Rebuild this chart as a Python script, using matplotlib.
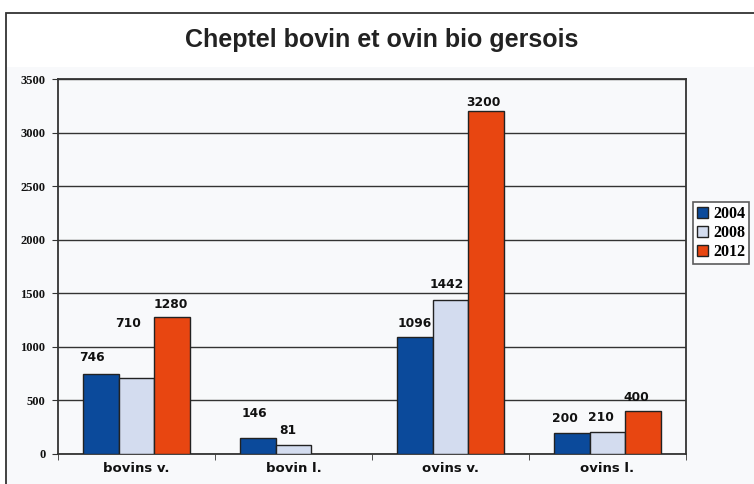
import numpy as np
import matplotlib
matplotlib.use("Agg")
import matplotlib.pyplot as plt
from matplotlib.patches import Rectangle

categories = ["bovins v.", "bovin l.", "ovins v.", "ovins l."]
years = ["2004", "2008", "2012"]
v2004 = [746, 146, 1096, 200]
v2008 = [710, 81, 1442, 210]
v2012 = [1280, None, 3200, 400]
series = [v2004, v2008, v2012]
colors = ["#0b4a9b", "#d3dcef", "#e84611"]
yticks = [0, 500, 1000, 1500, 2000, 2500, 3000, 3500]

# label offsets in pixels (dx, dy) relative to bar top center
label_dx = [[-9.5, -4, 0, -7], [-8, -5.5, -3.5, -6.5], [-1.5, 0, -3, -7]]
label_dy = [[10, 18, 7, 7.5], [48, 8, 8, 7.5], [6, 0, 2, 7]]

W, H = 754, 484
fig = plt.figure(figsize=(W / 100, H / 100), dpi=100)
fig.patch.set_facecolor("white")

# outer frame and panel
fig.patches.append(Rectangle((6 / W, -0.1), 1, 1.1 - 13 / H, transform=fig.transFigure,
                             facecolor="white", edgecolor="#333333", lw=1.3, zorder=-10))
fig.patches.append(Rectangle((7 / W, -0.1), 1, 1.1 - 67 / H, transform=fig.transFigure,
                             facecolor="#f8f9fb", edgecolor="none", zorder=-9))

fig.text(382 / W, 1 - 40 / H, "Cheptel bovin et ovin bio gersois",
         ha="center", va="center", fontsize=18, fontweight="bold",
         family="Liberation Sans", color="#222222")

ax = fig.add_axes([58 / W, 30 / H, (686 - 58) / W, (454 - 79) / H])
ax.set_zorder(1)
ax.set_facecolor("#f8f9fb")

x = np.arange(len(categories))
bw = 0.226
for i, (vals, c) in enumerate(zip(series, colors)):
    xs = x + (i - 1) * bw
    hv = [np.nan if v is None else v for v in vals]
    ax.bar(xs, hv, width=bw, color=c, edgecolor="#222222", linewidth=1.0,
           label=years[i], zorder=3)
    for j, v in enumerate(vals):
        if v is None:
            continue
        ax.annotate(str(v), (xs[j], v), xytext=(label_dx[i][j] * 0.72, label_dy[i][j] * 0.72),
                    textcoords="offset points", ha="center", va="bottom",
                    fontsize=8.8, fontweight="bold", family="DejaVu Sans", color="#111111",
                    zorder=4)

ax.set_xlim(-0.5, len(categories) - 0.5)
ax.set_ylim(0, 3500)
ax.set_yticks(yticks)
ax.set_yticklabels([str(t) for t in yticks], fontsize=9, fontweight="bold",
                   family="Liberation Serif", color="#111111")
ax.yaxis.grid(True, color="#333333", linewidth=1.0, zorder=1)
ax.set_axisbelow(True)
ax.set_xticks(x)
ax.set_xticklabels(categories, fontsize=9.5, fontweight="bold", family="DejaVu Sans",
                   color="#111111")
ax.set_xticks(np.arange(len(categories) + 1) - 0.5, minor=True)
ax.tick_params(axis="x", which="major", length=0, pad=6)
ax.tick_params(axis="x", which="minor", length=4, direction="out", color="#333333")
ax.tick_params(axis="y", length=4, direction="out", color="#333333", pad=5)
for s in ["left", "right", "bottom", "top"]:
    ax.spines[s].set_color("#333333")
    ax.spines[s].set_linewidth(1.3)

h, l = ax.get_legend_handles_labels()
leg = fig.legend(h, l, loc="upper left", bbox_to_anchor=(693 / W, 1 - 202 / H),
                 prop={"family": "Liberation Serif", "weight": "bold", "size": 11.5},
                 frameon=True, fancybox=False, edgecolor="#333333",
                 handlelength=0.7, handleheight=0.7, handletextpad=0.3,
                 borderpad=0.25, labelspacing=0.2, borderaxespad=0)
leg.get_frame().set_linewidth(1.2)
leg.get_frame().set_facecolor("white")
leg.set_zorder(5)

fig.savefig("out.png", dpi=100, facecolor="white")
